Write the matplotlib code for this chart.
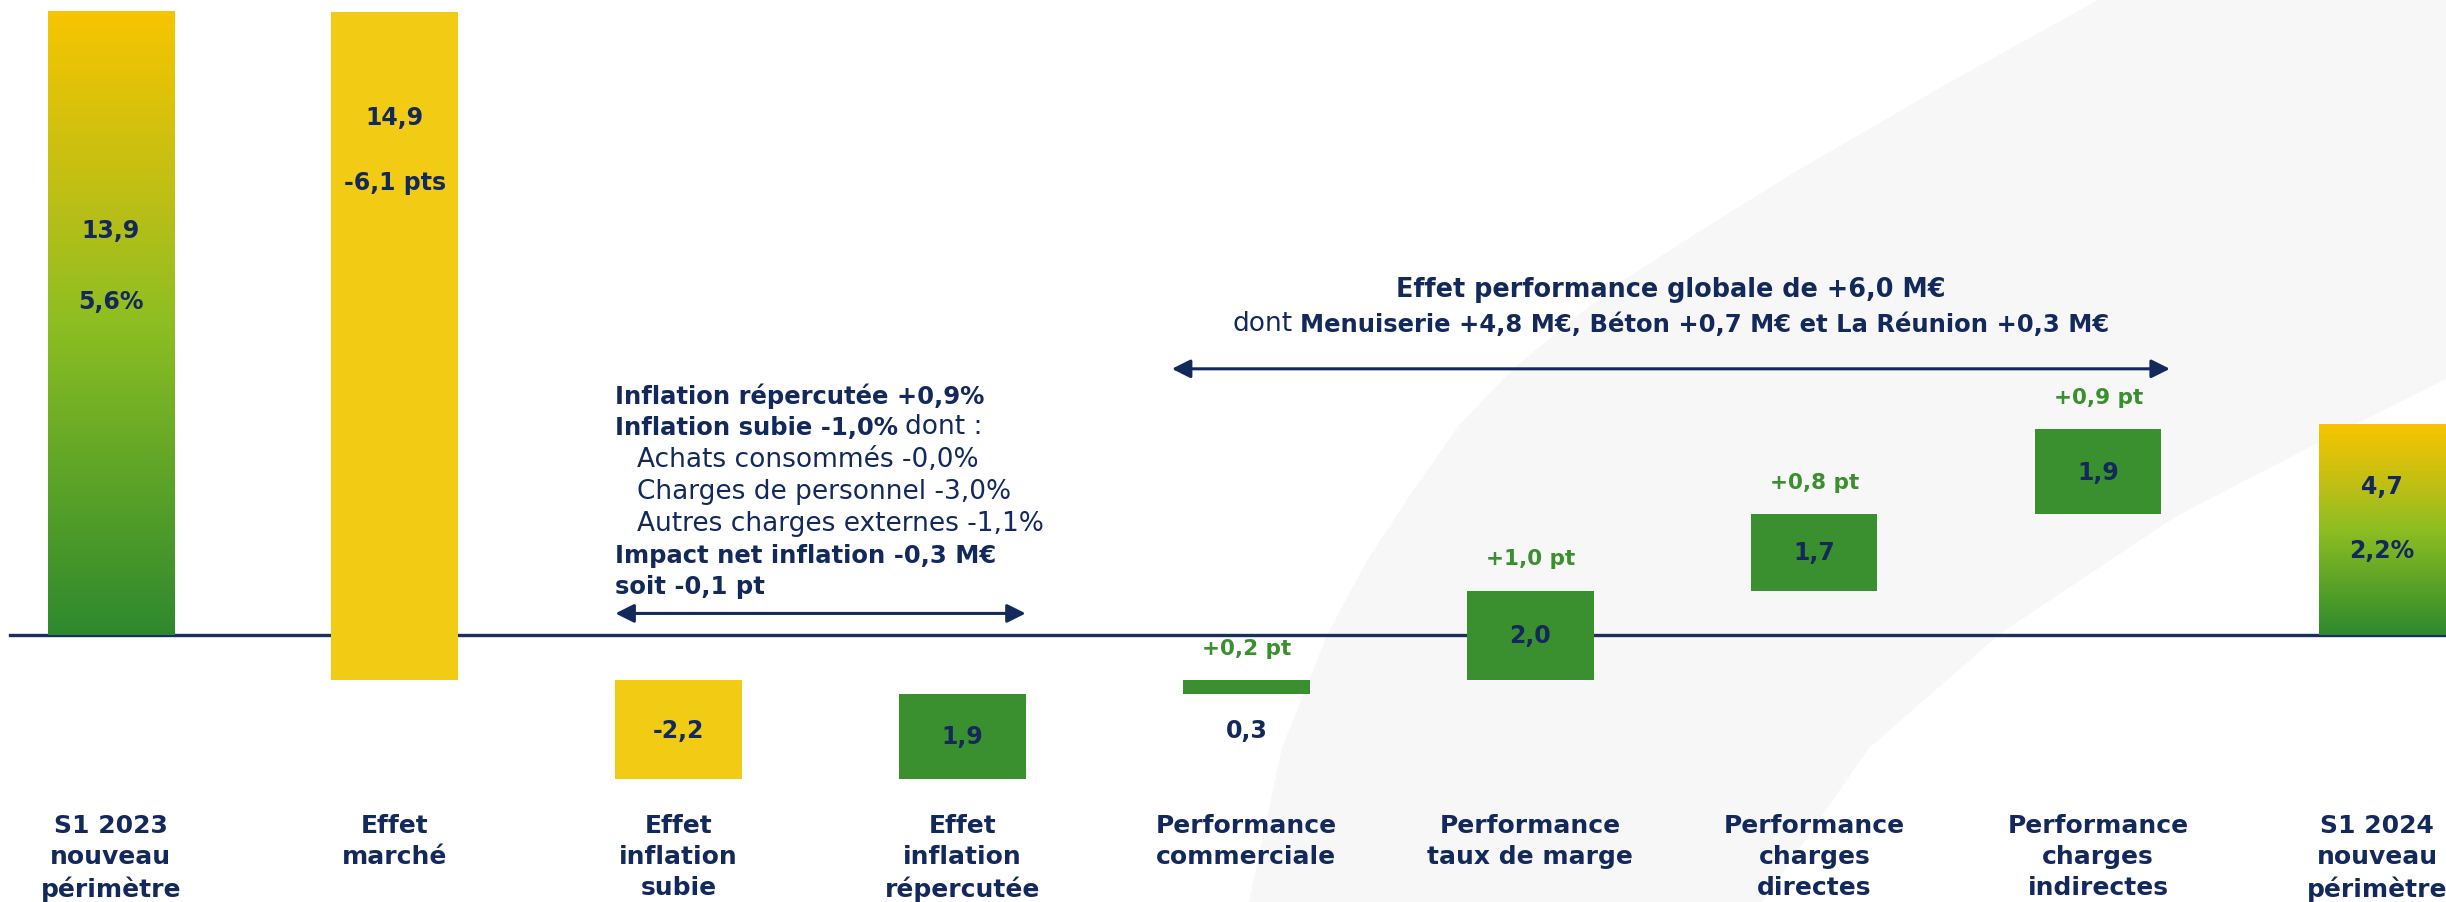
import numpy as np
import matplotlib.pyplot as plt
from matplotlib.colors import LinearSegmentedColormap
from matplotlib.path import Path
from matplotlib.patches import PathPatch
from matplotlib.transforms import offset_copy

# Données (M€)
categories = ["S1 2023\nnouveau\npérimètre", "Effet\nmarché", "Effet\ninflation\nsubie",
              "Effet\ninflation\nrépercutée", "Performance\ncommerciale",
              "Performance\ntaux de marge", "Performance\ncharges\ndirectes",
              "Performance\ncharges\nindirectes", "S1 2024\nnouveau\npérimètre"]
deltas = [13.9, -14.9, -2.2, 1.9, 0.3, 2.0, 1.7, 1.9, 4.7]
kinds = ["total", "neg", "neg", "pos", "pos", "pos", "pos", "pos", "total"]
value_labels = ["13,9", "14,9", "-2,2", "1,9", "0,3", "2,0", "1,7", "1,9", "4,7"]
margin_labels = ["5,6%", "-6,1 pts", "", "", "+0,2 pt", "+1,0 pt", "+0,8 pt", "+0,9 pt", "2,2%"]

navy = "#13295B"
green = "#3A8F2E"
yellow = "#F2CB14"
plt.rcParams['font.family'] = "DejaVu Sans"

fig = plt.figure(figsize=(24.46, 9.03), dpi=100)

# décor de fond (bande grise)
bg = fig.add_axes([0, 0, 1, 1], zorder=0)
bg.set_xlim(0, 2446)
bg.set_ylim(903, 0)
bg.axis("off")
left_edge = [(2100, 0), (1950, 83), (1795, 173), (1700, 232), (1613, 288), (1514, 369),
             (1460, 425), (1414, 490), (1368, 560), (1328, 634), (1282, 749), (1249, 903)]
right_edge = [(1762, 903), (1869, 749), (2001, 634), (2175, 518), (2310, 448),
              (2446, 380), (2446, 0)]
pts = left_edge + right_edge + [(2100, 0)]
bg.add_patch(PathPatch(Path(pts, closed=True), facecolor="#F7F7F7", edgecolor="none"))

ax = fig.add_axes([0, 0, 1, 1], zorder=1)
ax.patch.set_alpha(0)
ax.axis("off")

x = np.arange(len(deltas))
w = 0.445

# calcul cascade
bottoms, heights = [], []
running = 0.0
for d, k in zip(deltas, kinds):
    if k == "total":
        bottoms.append(0.0)
        heights.append(d)
        running = d
    else:
        bottoms.append(running)
        heights.append(d)
        running += d

cmap = LinearSegmentedColormap.from_list(
    "grad", [(0, "#2E892E"), (0.5, "#8DBE22"), (0.7, "#BDBF16"), (1, "#F7C500")])
grad = np.linspace(0, 1, 256).reshape(-1, 1)

for i in x:
    b, h, k = bottoms[i], heights[i], kinds[i]
    if k == "total":
        ax.imshow(grad, cmap=cmap, origin="lower", aspect="auto",
                  extent=[i - w / 2, i + w / 2, b, b + h], zorder=2)
    else:
        ax.bar(i, h, bottom=b, width=w, color=yellow if k == "neg" else green,
               zorder=2)

ax.axhline(0, xmin=0.004, xmax=1, color="#1B2E5E", lw=2.4, zorder=1.5)

# étiquettes de valeurs
lab_kw = dict(ha="center", va="center", color=navy, fontsize=17, fontweight="bold", zorder=4)
pct_kw = dict(ha="center", va="center", color=green, fontsize=15.5, fontweight="bold", zorder=4)
ax.text(0, 9.03, value_labels[0], **lab_kw)
ax.text(0, 7.44, margin_labels[0], **lab_kw)
ax.text(1, 11.54, value_labels[1], **lab_kw)
ax.text(1, 10.11, margin_labels[1], **lab_kw)
ax.text(8, 3.34, value_labels[8], **lab_kw)
ax.text(8, 1.91, margin_labels[8], **lab_kw)
for i in range(2, 8):
    b, h = bottoms[i], heights[i]
    top, low = max(b, b + h), min(b, b + h)
    if i == 4:
        ax.text(i, low - 0.8, value_labels[i], **lab_kw)
    else:
        ax.text(i, (top + low) / 2, value_labels[i], **lab_kw)
    if margin_labels[i]:
        ax.text(i, top + 0.72, margin_labels[i], **pct_kw)

# libellés des catégories
for i, c in enumerate(categories):
    t = ax.text(i, -3.96, c, ha="center", va="top", color=navy, fontsize=18,
                fontweight="bold", linespacing=1.36)
    if i == len(categories) - 1:
        t.set_transform(offset_copy(ax.transData, fig=fig, x=-5, y=0, units="dots"))

# bloc inflation
bx = 2 - w / 2
ys = 5.35 - 0.71 * np.arange(7)
bkw = dict(color=navy, fontsize=17.5, fontweight="bold", va="center", ha="left")
rkw = dict(color=navy, fontsize=19, va="center", ha="left")
ax.text(bx, ys[0], "Inflation répercutée +0,9%", **bkw)
t = ax.text(bx, ys[1], "Inflation subie -1,0%", **bkw)
ax.annotate("dont :", xy=(1, 0), xycoords=t, xytext=(5, 0), textcoords="offset points",
            color=navy, fontsize=19, va="bottom", ha="left")
ax.text(bx + 0.075, ys[2], "Achats consommés -0,0%", **rkw)
ax.text(bx + 0.075, ys[3], "Charges de personnel -3,0%", **rkw)
ax.text(bx + 0.075, ys[4], "Autres charges externes -1,1%", **rkw)
ax.text(bx, ys[5], "Impact net inflation -0,3 M€", **bkw)
ax.text(bx, ys[6], "soit -0,1 pt", **bkw)

arrow = dict(arrowstyle="<|-|>", color=navy, lw=2.2, mutation_scale=28, shrinkA=0, shrinkB=0)
ax.annotate("", xy=(3 + w / 2, 0.49), xytext=(bx, 0.49), arrowprops=arrow)

# bloc performance
px0, px1 = 4 - w / 2 - 0.04, 7 + w / 2 + 0.03
cx = (px0 + px1) / 2
ax.text(cx, 7.71, "Effet performance globale de +6,0 M€", color=navy, fontsize=18.4,
        fontweight="bold", ha="center", va="center")
t_dont = ax.text(cx, 6.95, "dont", color=navy, fontsize=19, ha="right", va="center")
t_rest = ax.text(cx, 6.95, "Menuiserie +4,8 M€, Béton +0,7 M€ et La Réunion +0,3 M€",
                 color=navy, fontsize=17.5, fontweight="bold", ha="left", va="center")
ax.annotate("", xy=(px1, 5.94), xytext=(px0, 5.94), arrowprops=arrow)

ax.set_xlim(-0.39, 8.225)
ax.set_ylim(-5.94, 14.18)

fig.canvas.draw()
r = fig.canvas.get_renderer()
gap = 8
w1 = t_dont.get_window_extent(r).width
w2 = t_rest.get_window_extent(r).width
total = w1 + gap + w2
t_dont.set_transform(offset_copy(ax.transData, fig=fig, x=w1 - total / 2, y=0, units="dots"))
t_rest.set_transform(offset_copy(ax.transData, fig=fig, x=w1 + gap - total / 2, y=0, units="dots"))

fig.savefig("out.png", dpi=100)
